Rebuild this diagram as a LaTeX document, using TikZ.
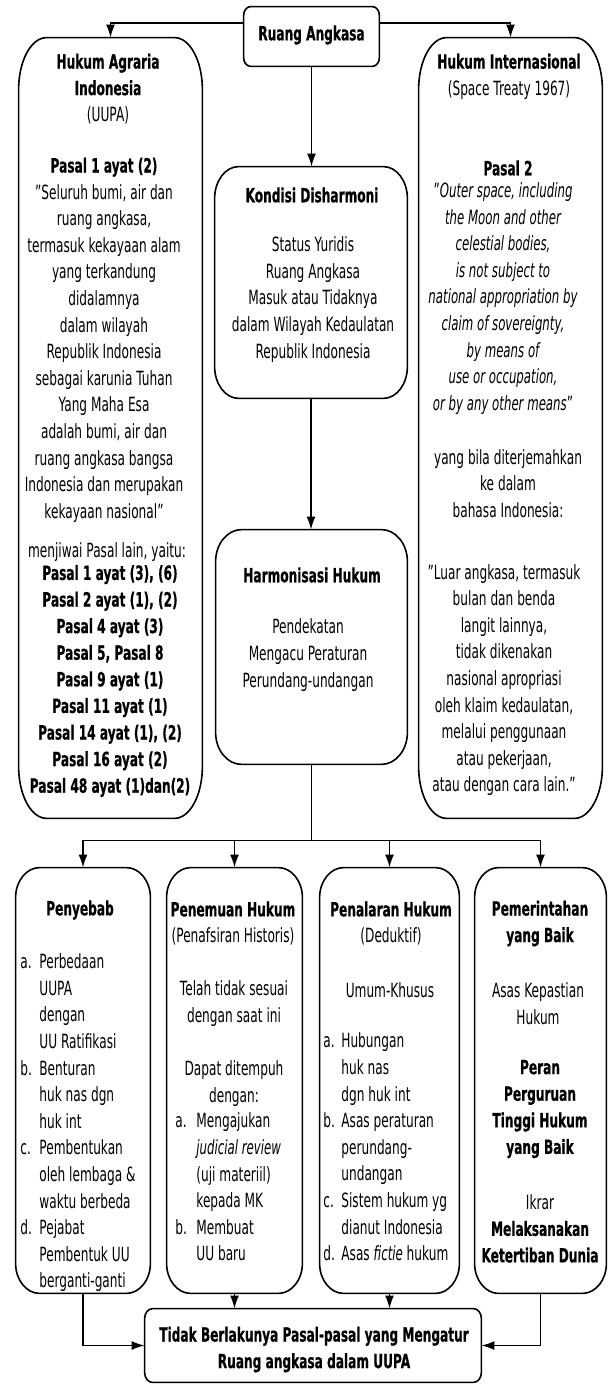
\documentclass[tikz,border=0pt]{standalone}
\usepackage{fontspec}
\setmainfont{DejaVu Sans}[FakeStretch=0.62]
\newfontfamily\bfont{DejaVu Sans}[FakeStretch=0.62,BoldFeatures={FakeBold=0.6}]
\newfontfamily\ifont{DejaVu Sans}[FakeStretch=0.6]
\usetikzlibrary{arrows.meta,calc}
\newcommand\tb[1]{{\bfont\bfseries #1}}
\newcommand\ti[1]{{\ifont\itshape #1}}
\newcommand\ellbox[3]{%
  \draw[boxline] ([xshift=#2]#1.north west) -- ([xshift=-#2]#1.north east)
    arc[start angle=90,end angle=0,x radius=#2,y radius=#3]
    -- ([yshift=#3]#1.south east)
    arc[start angle=0,end angle=-90,x radius=#2,y radius=#3]
    -- ([xshift=#2]#1.south west)
    arc[start angle=270,end angle=180,x radius=#2,y radius=#3]
    -- ([yshift=-#3]#1.north west)
    arc[start angle=180,end angle=90,x radius=#2,y radius=#3] -- cycle;}
\begin{document}
\begin{tikzpicture}[x=0.5pt,y=-0.5pt,
  boxline/.style={line width=0.8pt,line join=round},
  shell/.style={rectangle,draw=none,inner sep=0pt},
  txt/.style={inner sep=0pt,align=center,font=\fontsize{9.8}{13.3}\selectfont},
  ltxt/.style={inner sep=0pt,anchor=west,font=\fontsize{9.8}{13.3}\selectfont},
  conn/.style={line width=0.8pt},
  arr/.style={line width=0.8pt,-{Latex[length=6.5pt,width=4.5pt]}}]
\fill[white] (0,0) rectangle (608,1384);
\useasboundingbox (0,0) rectangle (608,1384);

% box shells
\node[shell,minimum width=67.5pt,minimum height=29.5pt] (T) at (311.5,36.5) {};
\node[shell,minimum width=91.5pt,minimum height=390pt] (L) at (110.5,428) {};
\node[shell,minimum width=91.5pt,minimum height=390pt] (R) at (510.5,428) {};
\node[shell,minimum width=96pt,minimum height=115.5pt] (K) at (311,282.5) {};
\node[shell,minimum width=95.5pt,minimum height=117pt] (H) at (311.5,647) {};
\node[shell,minimum width=67pt,minimum height=212.5pt] (B1) at (83,1080.5) {};
\node[shell,minimum width=67.5pt,minimum height=212.5pt] (B2) at (234.5,1080.5) {};
\node[shell,minimum width=69.5pt,minimum height=212.5pt] (B3) at (389.5,1080.5) {};
\node[shell,minimum width=65.5pt,minimum height=212.5pt] (B4) at (540.5,1080.5) {};
\node[shell,minimum width=168pt,minimum height=36.5pt] (F) at (313,1345.5) {};

\ellbox{T}{3.5pt}{4.5pt}
\ellbox{L}{14pt}{26pt}
\ellbox{R}{14pt}{26pt}
\ellbox{K}{12pt}{16pt}
\ellbox{H}{13pt}{16pt}
\ellbox{B1}{12pt}{15pt}
\ellbox{B2}{12pt}{15pt}
\ellbox{B3}{12pt}{15pt}
\ellbox{B4}{12pt}{15pt}
\ellbox{F}{4pt}{5pt}

% texts
\node[txt] (tT) at (311.5,35) {\tb{Ruang Angkasa}};

\node[txt] (tL1) at (108,89) {\tb{Hukum Agraria}\\\tb{Indonesia}\\(UUPA)};
\node[txt] (tL2) at (104,340) {\tb{Pasal 1 ayat (2)}\\"Seluruh bumi, air dan\\ruang angkasa,\\termasuk kekayaan alam\\yang terkandung\\didalamnya\\dalam wilayah\\Republik Indonesia\\sebagai karunia Tuhan\\Yang Maha Esa\\adalah bumi, air dan\\ruang angkasa bangsa\\Indonesia dan merupakan\\kekayaan nasional”};
\node[txt] (tL3) at (107,552) {menjiwai Pasal lain, yaitu:};
\node[txt] (tL4) at (110,681) {\tb{Pasal 1 ayat (3), (6)}\\\tb{Pasal 2 ayat (1), (2)}\\\tb{Pasal 4 ayat (3)}\\\tb{Pasal 5, Pasal 8}\\\tb{Pasal 9 ayat (1)}\\\tb{Pasal 11 ayat (1)}\\\tb{Pasal 14 ayat (1), (2)}\\\tb{Pasal 16 ayat (2)}\\\tb{Pasal 48 ayat (1)dan(2)}};

\node[txt] (tR1) at (509,76.5) {\tb{Hukum Internasional}\\(Space Treaty 1967)};
\node[txt] (tR2) at (508,168) {\tb{Pasal 2}};
\node[txt] (tR3) at (503,298.5) {"\ti{Outer space, including}\\\ti{the Moon and other}\\\ti{celestial bodies,}\\\ti{is not subject to}\\\ti{national appropriation by}\\\ti{claim of sovereignty,}\\\ti{by means of}\\\ti{use or occupation,}\\\ti{or by any other means}"};
\node[txt] (tR4) at (508,483.5) {yang bila diterjemahkan\\ke dalam\\bahasa Indonesia:};
\node[txt] (tR5) at (504,680) {"Luar angkasa, termasuk\\bulan dan benda\\langit lainnya,\\tidak dikenakan\\nasional apropriasi\\oleh klaim kedaulatan,\\melalui penggunaan\\atau pekerjaan,\\atau dengan cara lain.”};

\node[txt] (tK1) at (312,195) {\tb{Kondisi Disharmoni}};
\node[txt] (tK2) at (313,299.5) {Status Yuridis\\Ruang Angkasa\\Masuk atau Tidaknya\\dalam Wilayah Kedaulatan\\Republik Indonesia};

\node[txt] (tH1) at (312,575) {\tb{Harmonisasi Hukum}};
\node[txt] (tH2) at (308,655) {Pendekatan\\Mengacu Peraturan\\Perundang-undangan};

\node[txt] (tB1a) at (80,910) {\tb{Penyebab}};
\node[ltxt] (tB1b) at (20,1123) {\begin{tabular}{@{}p{9.5pt}@{}l@{}}a.&Perbedaan\\&UUPA\\&dengan\\&UU Ratifikasi\\b.&Benturan\\&huk nas dgn\\&huk int\\c.&Pembentukan\\&oleh lembaga \&\\&waktu berbeda\\d.&Pejabat\\&Pembentuk UU\\&berganti-ganti\end{tabular}};

\node[txt] (tB2a) at (233,923.5) {\tb{Penemuan Hukum}\\(Penafsiran Historis)};
\node[txt] (tB2b) at (234,1003.5) {Telah tidak sesuai\\dengan saat ini};
\node[txt] (tB2c) at (234,1083.5) {Dapat ditempuh\\dengan:};
\node[ltxt] (tB2d) at (175,1189) {\begin{tabular}{@{}p{10.5pt}@{}l@{}}a.&Mengajukan\\&\ti{judicial review}\\&(uji materiil)\\&kepada MK\\b.&Membuat\\&UU baru\end{tabular}};

\node[txt] (tB3a) at (391,923.5) {\tb{Penalaran Hukum}\\(Deduktif)};
\node[txt] (tB3b) at (390,990) {Umum-Khusus};
\node[ltxt] (tB3c) at (323,1149) {\begin{tabular}{@{}p{9pt}@{}l@{}}a.&Hubungan\\&huk nas\\&dgn huk int\\b.&Asas peraturan\\&perundang-\\&undangan\\c.&Sistem hukum yg\\&dianut Indonesia\\d.&Asas \ti{fictie} hukum\end{tabular}};

\node[txt] (tB4a) at (540,923.5) {\tb{Pemerintahan}\\\tb{yang Baik}};
\node[txt] (tB4b) at (538,1003.5) {Asas Kepastian\\Hukum};
\node[txt] (tB4c) at (540,1109) {\tb{Peran}\\\tb{Perguruan}\\\tb{Tinggi Hukum}\\\tb{yang Baik}};
\node[txt] (tB4d) at (540,1228.5) {Ikrar\\\tb{Melaksanakan}\\\tb{Ketertiban Dunia}};

\node[txt] (tF) at (314,1349.5) {\tb{Tidak Berlakunya Pasal-pasal yang Mengatur}\\\tb{Ruang angkasa dalam UUPA}};

% connectors
\draw[arr] ($(T.west)+(0,-13.5)$) -| (L.north);
\draw[arr] ($(T.east)+(0,-13.5)$) -| (R.north);
\draw[arr] (T.south) -- (T.south |- K.north);
\draw[arr] (K.south) -- (K.south |- H.north);
\coordinate (split) at ($(H.south)+(0,76)$);
\draw[conn] (H.south) -- (split);
\draw[arr] (split) -| (B1.north);
\draw[arr] (split) -| (B2.north);
\draw[arr] (split) -| (B3.north);
\draw[arr] (split) -| (B4.north);
\draw[arr] (B1.south) |- (F.west);
\draw[arr] (B2.south) -- (B2.south |- F.north);
\draw[arr] (B3.south) -- (B3.south |- F.north);
\draw[arr] (B4.south) |- (F.east);
\end{tikzpicture}
\end{document}
